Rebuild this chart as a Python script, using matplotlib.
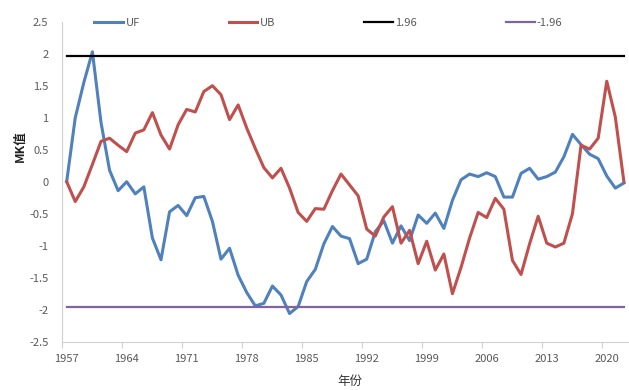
import numpy as np
import matplotlib
matplotlib.use("Agg")
import matplotlib.pyplot as plt

plt.rcParams['font.family'] = ['Noto Sans CJK SC', 'DejaVu Sans']

# Mann-Kendall statistics, one value per year
years = np.arange(1957, 2023)

uf = [0.00, 1.00, 1.55, 2.03, 0.93, 0.18, -0.14, 0.00, -0.19, -0.08,
      -0.88, -1.22, -0.47, -0.37, -0.53, -0.25, -0.23, -0.62, -1.21, -1.04,
      -1.46, -1.73, -1.94, -1.90, -1.63, -1.77, -2.06, -1.95, -1.56, -1.37,
      -0.97, -0.70, -0.85, -0.89, -1.28, -1.21, -0.78, -0.61, -0.96, -0.69,
      -0.92, -0.52, -0.65, -0.49, -0.73, -0.29, 0.03, 0.12, 0.08, 0.14,
      0.08, -0.24, -0.24, 0.13, 0.21, 0.04, 0.08, 0.15, 0.39, 0.74,
      0.58, 0.43, 0.36, 0.09, -0.10, -0.02]

ub = [0.00, -0.31, -0.08, 0.27, 0.63, 0.68, 0.57, 0.47, 0.76, 0.81,
      1.08, 0.73, 0.51, 0.89, 1.13, 1.09, 1.41, 1.50, 1.36, 0.97,
      1.20, 0.84, 0.52, 0.22, 0.06, 0.21, -0.10, -0.48, -0.62, -0.42,
      -0.43, -0.14, 0.12, -0.05, -0.22, -0.74, -0.85, -0.55, -0.39, -0.96,
      -0.76, -1.28, -0.93, -1.38, -1.13, -1.75, -1.34, -0.88, -0.48, -0.56,
      -0.26, -0.43, -1.23, -1.45, -0.97, -0.54, -0.96, -1.02, -0.96, -0.50,
      0.57, 0.51, 0.68, 1.57, 1.01, 0.00]

crit = 1.96
upper = [crit] * len(years)
lower = [-crit] * len(years)

tick_years = [1957, 1964, 1971, 1978, 1985, 1992, 1999, 2006, 2013, 2020]
y_ticks = [2.5, 2, 1.5, 1, 0.5, 0, -0.5, -1, -1.5, -2, -2.5]

gray = '#595959'

fig = plt.figure(figsize=(6.29, 3.9), dpi=100)
ax = fig.add_axes([0.0992, 0.1238, 0.8995, 0.8205])

ax.plot(years, uf, color='#4F81BD', lw=2.2, label='UF', solid_joinstyle='round')
ax.plot(years, ub, color='#C0504D', lw=2.2, label='UB', solid_joinstyle='round')
ax.plot(years, upper, color='black', lw=1.6, label='1.96')
ax.plot(years, lower, color='#8064A2', lw=1.6, label='-1.96')

ax.set_xlim(1956.5, 2022.5)
ax.set_ylim(-2.5, 2.5)

ax.set_xticks(tick_years)
ax.set_xticklabels([str(y) for y in tick_years])
ax.set_xticks(np.arange(1956.5, 2023, 7), minor=True)
ax.tick_params(axis='x', which='major', length=0, pad=9, labelsize=8, labelcolor=gray)
ax.tick_params(axis='x', which='minor', length=4, color='#d0d0d0', width=0.8)

ax.set_yticks(y_ticks)
ax.set_yticklabels(['%g' % v for v in y_ticks])
ax.tick_params(axis='y', length=0, pad=10, labelsize=8, labelcolor=gray)

for side in ('top', 'right'):
    ax.spines[side].set_visible(False)
for side in ('left', 'bottom'):
    ax.spines[side].set_color('#d0d0d0')
    ax.spines[side].set_linewidth(0.8)

ax.set_ylabel('MK值', fontsize=9, fontweight='bold', color='#222222')
ax.yaxis.set_label_coords(-0.064, 0.61)
ax.set_xlabel('年份', fontsize=9, color='#333333')
ax.xaxis.set_label_coords(0.508, -0.105)

fig.legend(loc='center', bbox_to_anchor=(0.522, 0.941), ncol=4, frameon=False,
           fontsize=8, labelcolor=gray, handlelength=2.6, handletextpad=0.2,
           columnspacing=8.0, borderpad=0.2)

fig.savefig('out.png', dpi=100)
